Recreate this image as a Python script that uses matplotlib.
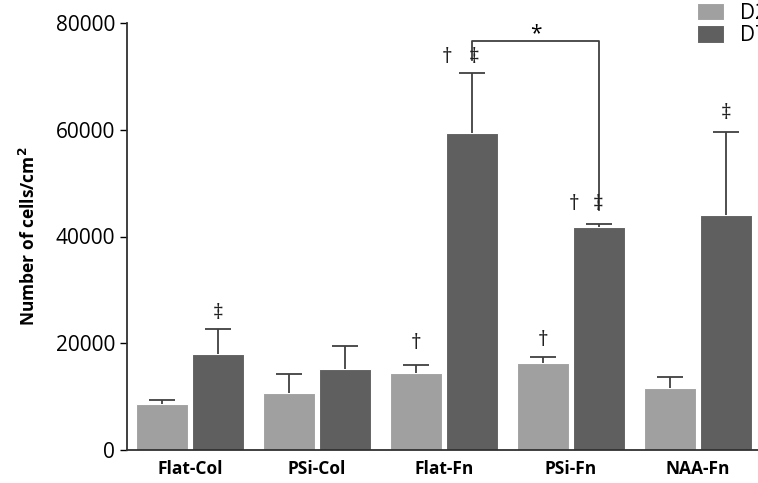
import numpy as np
import matplotlib.pyplot as plt

groups = ["Flat-Col", "PSi-Col", "Flat-Fn", "PSi-Fn", "NAA-Fn"]
d2 = [8600, 10700, 14400, 16300, 11600]
d2_err = [800, 3500, 1500, 1100, 2100]
d7 = [18000, 15200, 59400, 41800, 44000]
d7_err = [4600, 4300, 11200, 500, 15600]

plt.rcParams['font.family'] = ['Open Sans', 'DejaVu Sans']

fig = plt.figure(figsize=(7.58, 4.83), dpi=100)
ax = fig.add_axes([127/758, 1-450/483, 1-127/758, (450-23)/483])

x = np.arange(len(groups))
w = 0.41
off = 0.22
c2 = "#a0a0a0"
c7 = "#5f5f5f"
ax.bar(x - off, d2, w, color=c2, edgecolor="white", linewidth=0.8, label="D2")
ax.bar(x + off, d7, w, color=c7, edgecolor="white", linewidth=0.8, label="D7")

# upper-only error bars
cap = 0.1
for xs, vals, errs in [(x - off, d2, d2_err), (x + off, d7, d7_err)]:
    tops = np.array(vals) + np.array(errs)
    ax.vlines(xs, vals, tops, color="#404040", lw=1.3)
    ax.hlines(tops, xs - cap, xs + cap, color="#404040", lw=1.3)

ax.set_xlim(-0.496, 4.472)
ax.set_ylim(0, 80000)
ax.set_yticks([0, 20000, 40000, 60000, 80000])
ax.tick_params(axis='y', labelsize=15, length=5, width=1, direction='out')
ax.set_xticks(x)
ax.set_xticklabels(groups, fontsize=12.5, fontweight='bold')
ax.tick_params(axis='x', length=0, pad=7)
for s in ['top', 'right']:
    ax.spines[s].set_visible(False)
for s in ['left', 'bottom']:
    ax.spines[s].set_linewidth(1.3)
    ax.spines[s].set_color("#303030")
ax.set_ylabel("Number of cells/cm$^\\mathbf{2}$", fontsize=12.5, fontweight='bold', labelpad=12)

# significance bracket between Flat-Fn D7 and PSi-Fn D7
lx = 2 + off
rx = 3 + off
ax.plot([lx, lx, rx, rx], [73000, 76600, 76600, 45000], color="#404040", lw=1.3, clip_on=False)
ax.text((lx + rx) / 2, 78000, "*", ha='center', va='center', fontsize=15)

dag = "\u2020"
ddag = "\u2021"
marks = [
    (0 + off, 25500, ddag),
    (2 - off, 20000, dag),
    (2 + off - 0.2, 73500, dag),
    (2 + off + 0.02, 73500, ddag),
    (3 - off, 20500, dag),
    (3 + off - 0.2, 46000, dag),
    (3 + off - 0.01, 46000, ddag),
    (4 + off, 63000, ddag),
]
for mx, my, m in marks:
    ax.text(mx, my, m, ha='center', va='center', fontsize=15, color="#202020")

fig.legend(loc='upper left', bbox_to_anchor=(697/758, 1 - 3/483), frameon=False,
           fontsize=15, handlelength=1.3, handleheight=0.9, labelspacing=0.05,
           handletextpad=0.75, borderpad=0, borderaxespad=0)

fig.savefig("out.png", dpi=100)
